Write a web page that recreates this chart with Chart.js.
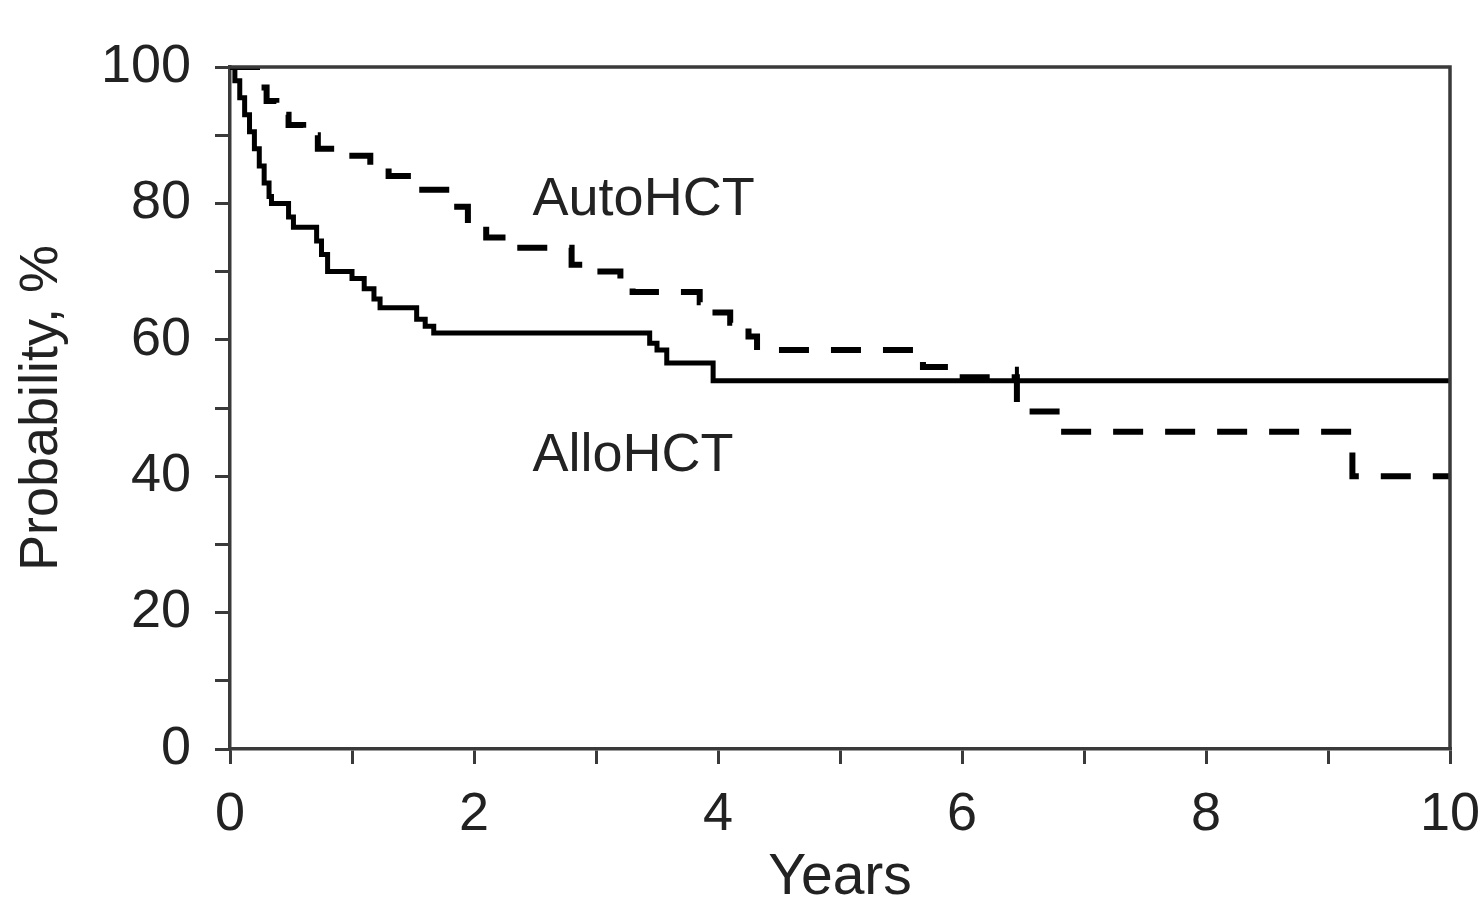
<!DOCTYPE html>
<html><head><meta charset="utf-8">
<script src="https://cdn.jsdelivr.net/npm/chart.js@4.4.1/dist/chart.umd.min.js"></script>
<style>html,body{margin:0;padding:0;background:#fff;}#wrap{width:1478px;height:907px;position:relative;}</style>
</head><body><div id="wrap"><canvas id="c" width="1478" height="907"></canvas></div>
<script>
// AlloHCT (solid) Kaplan-Meier steps: time in years, probability %
const alloYears = [0, 0.04, 0.08, 0.12, 0.16, 0.2, 0.24, 0.28, 0.32, 0.34, 0.48, 0.52, 0.71, 0.75, 0.8, 1.0, 1.1, 1.18, 1.23, 1.53, 1.6, 1.67, 3.44, 3.5, 3.58, 3.96, 10];
const alloProb  = [100, 98, 95.5, 93, 90.5, 88, 85.5, 83, 81, 80, 78, 76.5, 74.5, 72.5, 70, 69, 67.5, 66, 64.7, 63, 62, 61, 59.5, 58.5, 56.6, 54, 54];
// AutoHCT (dashed)
const autoYears = [0, 0.2, 0.25, 0.3, 0.38, 0.48, 0.6, 0.72, 0.9, 1.15, 1.3, 1.55, 1.8, 1.95, 2.1, 2.3, 2.8, 2.95, 3.2, 3.3, 3.85, 3.95, 4.1, 4.25, 4.32, 5.68, 5.95, 6.45, 6.8, 9.2, 10];
const autoProb  = [100, 100, 97, 95, 93, 91.5, 90, 88, 87, 85.5, 84, 82, 79.5, 77, 75, 73.5, 71, 70, 68, 67, 65.5, 64, 62.5, 60.5, 58.5, 56, 54.5, 49.5, 46.5, 40, 40];
// censor marks
const censorYears = [6.45];
const censorProb = [54];
// axis ticks
const xTickLabels = [0, 2, 4, 6, 8, 10];
const yTickLabels = [0, 20, 40, 60, 80, 100];
// curve labels
const labelNames = ['AutoHCT', 'AlloHCT'];
const labelYears = [2.48, 2.48];
const labelProb = [80.5, 43];

const toPts = (xs, ys) => xs.map((x, i) => ({x: x, y: ys[i]}));
const FONT = "'Liberation Sans', Arial, sans-serif";
const TXT = '#222';
const FS = 54;

const framePlugin = {
  id: 'frame',
  afterDatasetsDraw(chart) {
    const {ctx, chartArea: a, scales} = chart;
    ctx.save();
    ctx.strokeStyle = '#3a3a3a';
    ctx.lineWidth = 3.5;
    ctx.beginPath();
    ctx.moveTo(a.left, a.top); ctx.lineTo(a.right, a.top); ctx.lineTo(a.right, a.bottom);
    ctx.stroke();
    ctx.fillStyle = TXT;
    ctx.font = FS + "px " + FONT;
    ctx.textAlign = 'left';
    ctx.textBaseline = 'middle';
    labelNames.forEach((t, i) => {
      ctx.fillText(t, scales.x.getPixelForValue(labelYears[i]), scales.y.getPixelForValue(labelProb[i]));
    });
    ctx.restore();
  }
};

new Chart(document.getElementById('c'), {
  type: 'line',
  data: {
    datasets: [
      {label: 'AlloHCT', data: toPts(alloYears, alloProb), stepped: true, borderColor: '#000', borderWidth: 5, pointRadius: 0, fill: false},
      {label: 'AutoHCT', data: toPts(autoYears, autoProb), stepped: true, borderColor: '#000', borderWidth: 6, borderDash: [30, 22], pointRadius: 0, fill: false},
      {label: 'censor', type: 'scatter', data: toPts(censorYears, censorProb), pointStyle: 'line', rotation: 90, radius: 14, borderColor: '#000', borderWidth: 4, showLine: false}
    ]
  },
  options: {
    responsive: false,
    animation: false,
    layout: {padding: {top: 67, right: 0, left: 0, bottom: 0}},
    plugins: {legend: {display: false}, tooltip: {enabled: false}},
    scales: {
      x: {
        type: 'linear', min: 0, max: 10,
        afterFit: (s) => { s.height = 158; s.paddingRight = 28; s.paddingLeft = 0; },
        border: {display: true, color: '#3a3a3a', width: 3.5},
        grid: {display: true, drawOnChartArea: false, drawTicks: true, tickLength: 15, color: '#3a3a3a', lineWidth: 3},
        ticks: {stepSize: 1, color: TXT, padding: 19, maxRotation: 0, autoSkip: false,
          font: {family: FONT, size: FS},
          callback: (v) => xTickLabels.includes(v) ? String(v) : ''},
        title: {display: true, text: 'Years', color: TXT, font: {family: FONT, size: 57, lineHeight: 1.0}, padding: {top: 0, bottom: 0}}
      },
      y: {
        type: 'linear', min: 0, max: 100,
        afterFit: (s) => { s.width = 230; },
        border: {display: true, color: '#3a3a3a', width: 3.5},
        grid: {display: true, drawOnChartArea: false, drawTicks: true, tickLength: 15, color: '#3a3a3a', lineWidth: 3},
        ticks: {stepSize: 10, color: TXT, padding: 24, autoSkip: false,
          font: {family: FONT, size: FS},
          callback: (v) => yTickLabels.includes(v) ? String(v) : ''},
        title: {display: true, text: 'Probability, %', color: TXT, font: {family: FONT, size: FS, lineHeight: 1.0}, padding: {top: 15, bottom: 0}}
      }
    }
  },
  plugins: [framePlugin]
});
</script></body></html>
